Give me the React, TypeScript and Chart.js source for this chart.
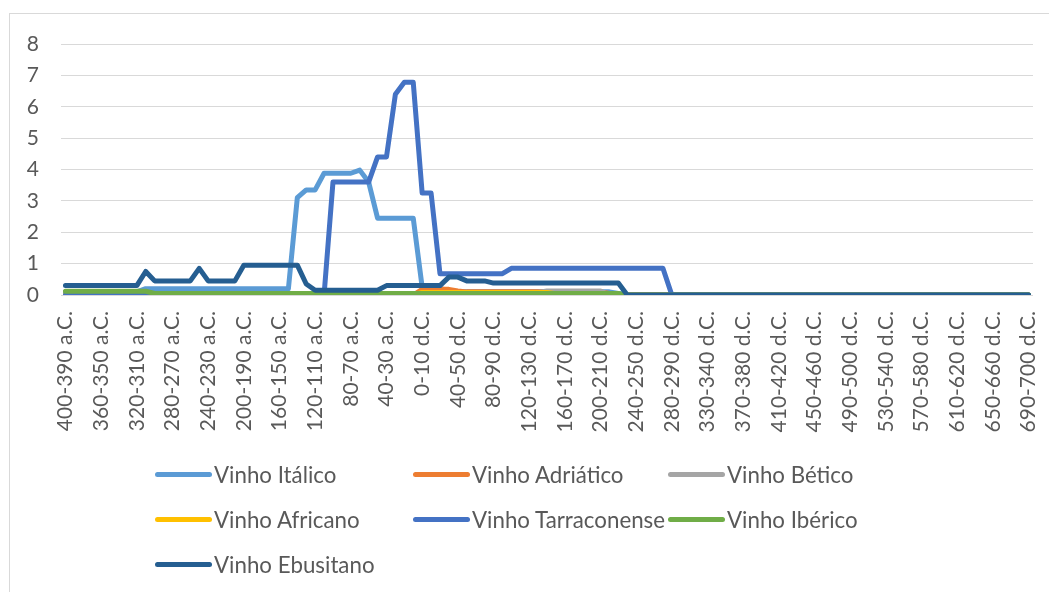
import React, { useEffect, useRef } from 'react';
import { Chart, registerables } from 'chart.js';

Chart.register(...registerables);

const categories = [
  '400-390 a.C.', '390-380 a.C.', '380-370 a.C.', '370-360 a.C.', '360-350 a.C.', '350-340 a.C.', '340-330 a.C.', '330-320 a.C.',
  '320-310 a.C.', '310-300 a.C.', '300-290 a.C.', '290-280 a.C.', '280-270 a.C.', '270-260 a.C.', '260-250 a.C.', '250-240 a.C.',
  '240-230 a.C.', '230-220 a.C.', '220-210 a.C.', '210-200 a.C.', '200-190 a.C.', '190-180 a.C.', '180-170 a.C.', '170-160 a.C.',
  '160-150 a.C.', '150-140 a.C.', '140-130 a.C.', '130-120 a.C.', '120-110 a.C.', '110-100 a.C.', '100-90 a.C.', '90-80 a.C.',
  '80-70 a.C.', '70-60 a.C.', '60-50 a.C.', '50-40 a.C.', '40-30 a.C.', '30-20 a.C.', '20-10 a.C.', '10-0 a.C.',
  '0-10 d.C.', '10-20 d.C.', '20-30 d.C.', '30-40 d.C.', '40-50 d.C.', '50-60 d.C.', '60-70 d.C.', '70-80 d.C.',
  '80-90 d.C.', '90-100 d.C.', '100-110 d.C.', '110-120 d.C.', '120-130 d.C.', '130-140 d.C.', '140-150 d.C.', '150-160 d.C.',
  '160-170 d.C.', '170-180 d.C.', '180-190 d.C.', '190-200 d.C.', '200-210 d.C.', '210-220 d.C.', '220-230 d.C.', '230-240 d.C.',
  '240-250 d.C.', '250-260 d.C.', '260-270 d.C.', '270-280 d.C.', '280-290 d.C.', '290-300 d.C.', '300-310 d.C.', '310-320 d.C.',
  '330-340 d.C.', '340-350 d.C.', '350-360 d.C.', '360-370 d.C.', '370-380 d.C.', '380-390 d.C.', '390-400 d.C.', '400-410 d.C.',
  '410-420 d.C.', '420-430 d.C.', '430-440 d.C.', '440-450 d.C.', '450-460 d.C.', '460-470 d.C.', '470-480 d.C.', '480-490 d.C.',
  '490-500 d.C.', '500-510 d.C.', '510-520 d.C.', '520-530 d.C.', '530-540 d.C.', '540-550 d.C.', '550-560 d.C.', '560-570 d.C.',
  '570-580 d.C.', '580-590 d.C.', '590-600 d.C.', '600-610 d.C.', '610-620 d.C.', '620-630 d.C.', '630-640 d.C.', '640-650 d.C.',
  '650-660 d.C.', '660-670 d.C.', '670-680 d.C.', '680-690 d.C.', '690-700 d.C.',
];

// every 4th category carries a visible tick label
const labelStep = 4;

const vinhoItalico = [
  0.1, 0.1, 0.1, 0.1, 0.1, 0.1, 0.1, 0.1, 0.1,
  0.2, 0.2, 0.2, 0.2, 0.2, 0.2, 0.2, 0.2, 0.2, 0.2, 0.2, 0.2, 0.2, 0.2, 0.2, 0.2, 0.2,
  3.1, 3.35, 3.35, 3.88, 3.88, 3.88, 3.88, 3.98, 3.6,
  2.45, 2.45, 2.45, 2.45, 2.45,
  0.25, 0.2, 0.2, 0.15,
  0.1, 0.1, 0.1, 0.1, 0.1, 0.1, 0.1, 0.1, 0.1, 0.1, 0.1, 0.1, 0.1, 0.1, 0.1, 0.1, 0.1, 0.1,
  0.05,
  0, 0, 0, 0, 0, 0, 0, 0, 0, 0, 0, 0, 0, 0, 0, 0, 0, 0, 0, 0, 0, 0, 0,
  0, 0, 0, 0, 0, 0, 0, 0, 0, 0, 0, 0, 0, 0, 0, 0, 0, 0, 0, 0, 0, 0, 0,
];

const vinhoAdriatico = [
  0, 0, 0, 0, 0, 0, 0, 0, 0, 0, 0, 0, 0, 0, 0, 0, 0, 0, 0, 0,
  0, 0, 0, 0, 0, 0, 0, 0, 0, 0, 0, 0, 0, 0, 0, 0, 0, 0, 0, 0,
  0.18, 0.18, 0.18, 0.18, 0.13,
  0.1, 0.1, 0.1, 0.1, 0.1, 0.1, 0.1, 0.1, 0.1, 0.1, 0.1, 0.1, 0.1, 0.1, 0.1, 0.1,
  0.05,
  0, 0, 0, 0, 0, 0, 0, 0, 0, 0, 0, 0, 0, 0, 0, 0, 0, 0, 0, 0, 0, 0, 0, 0,
  0, 0, 0, 0, 0, 0, 0, 0, 0, 0, 0, 0, 0, 0, 0, 0, 0, 0, 0, 0, 0, 0, 0,
];

const vinhoBetico = [
  0, 0, 0, 0, 0, 0, 0, 0, 0, 0, 0, 0, 0, 0, 0, 0, 0, 0, 0, 0, 0, 0, 0,
  0, 0, 0, 0, 0, 0, 0, 0, 0, 0, 0, 0, 0, 0, 0, 0, 0, 0, 0, 0, 0, 0,
  0.08, 0.08, 0.08, 0.08, 0.08, 0.08, 0.08, 0.08, 0.08,
  0.13, 0.13, 0.13, 0.13, 0.13, 0.13, 0.13,
  0,
  0, 0, 0, 0, 0, 0, 0, 0, 0, 0, 0, 0, 0, 0, 0, 0, 0, 0, 0, 0, 0, 0, 0, 0,
  0, 0, 0, 0, 0, 0, 0, 0, 0, 0, 0, 0, 0, 0, 0, 0, 0, 0, 0, 0, 0, 0, 0,
];

const vinhoAfricano = [
  0, 0, 0, 0, 0, 0, 0, 0, 0, 0, 0, 0, 0, 0, 0, 0, 0, 0, 0, 0,
  0, 0, 0, 0, 0, 0, 0, 0, 0, 0, 0, 0, 0, 0, 0, 0, 0, 0, 0, 0,
  0.08, 0.08, 0.08, 0.08, 0.08, 0.08, 0.08, 0.08, 0.08, 0.08, 0.08, 0.08, 0.08, 0.08, 0.08,
  0.04, 0.04, 0.04, 0.04, 0.04, 0.04, 0.04,
  0, 0, 0, 0, 0, 0, 0, 0, 0, 0, 0, 0, 0, 0, 0, 0, 0, 0, 0, 0, 0, 0, 0, 0,
  0, 0, 0, 0, 0, 0, 0, 0, 0, 0, 0, 0, 0, 0, 0, 0, 0, 0, 0, 0, 0, 0, 0,
];

const vinhoTarraconense = [
  0, 0, 0, 0, 0, 0, 0, 0, 0, 0, 0, 0, 0, 0, 0,
  0, 0, 0, 0, 0, 0, 0, 0, 0, 0, 0, 0, 0, 0, 0,
  3.6, 3.6, 3.6, 3.6, 3.6,
  4.4, 4.4,
  6.4, 6.78, 6.78,
  3.25, 3.25,
  0.68, 0.68, 0.68, 0.68, 0.68, 0.68, 0.68, 0.68,
  0.85, 0.85, 0.85, 0.85, 0.85, 0.85, 0.85, 0.85, 0.85,
  0.85, 0.85, 0.85, 0.85, 0.85, 0.85, 0.85, 0.85, 0.85,
  0, 0, 0, 0, 0, 0, 0, 0, 0, 0, 0, 0, 0, 0, 0, 0, 0, 0, 0, 0, 0,
  0, 0, 0, 0, 0, 0, 0, 0, 0, 0, 0, 0, 0, 0, 0, 0, 0, 0, 0, 0,
];

const vinhoIberico = [
  0.12, 0.12, 0.12, 0.12, 0.12, 0.12, 0.12, 0.12, 0.12, 0.12,
  0.05, 0.05, 0.05, 0.05, 0.05, 0.05, 0.05, 0.05, 0.05, 0.05, 0.05, 0.05, 0.05, 0.05, 0.05, 0.05, 0.05, 0.05,
  0.05, 0.05, 0.05, 0.05, 0.05, 0.05, 0.05, 0.05, 0.05, 0.05, 0.05, 0.05, 0.05, 0.05, 0.05, 0.05, 0.05, 0.05,
  0.05, 0.05, 0.05, 0.05, 0.05, 0.05, 0.05, 0.05, 0.05, 0.05, 0.05, 0.05, 0.05, 0.05, 0.05, 0.05, 0.05,
  0, 0, 0, 0, 0, 0, 0, 0, 0, 0, 0, 0, 0, 0, 0, 0, 0, 0, 0, 0, 0, 0, 0,
  0, 0, 0, 0, 0, 0, 0, 0, 0, 0, 0, 0, 0, 0, 0, 0, 0, 0, 0, 0, 0, 0, 0,
];

const vinhoEbusitano = [
  0.3, 0.3, 0.3, 0.3, 0.3, 0.3, 0.3, 0.3, 0.3,
  0.75,
  0.45, 0.45, 0.45, 0.45, 0.45,
  0.85,
  0.45, 0.45, 0.45, 0.45,
  0.95, 0.95, 0.95, 0.95, 0.95, 0.95, 0.95,
  0.35,
  0.15, 0.15, 0.15, 0.15, 0.15, 0.15, 0.15, 0.15,
  0.3, 0.3, 0.3, 0.3, 0.3, 0.3, 0.3,
  0.57, 0.57,
  0.45, 0.45, 0.45,
  0.38, 0.38, 0.38, 0.38, 0.38, 0.38, 0.38, 0.38, 0.38, 0.38, 0.38, 0.38, 0.38, 0.38, 0.38,
  0, 0, 0, 0, 0, 0, 0, 0, 0, 0, 0, 0, 0, 0, 0, 0, 0, 0, 0, 0, 0, 0, 0,
  0, 0, 0, 0, 0, 0, 0, 0, 0, 0, 0, 0, 0, 0, 0, 0, 0, 0, 0, 0, 0, 0, 0,
];

const seriesNames = [
  'Vinho Itálico',
  'Vinho Adriático',
  'Vinho Bético',
  'Vinho Africano',
  'Vinho Tarraconense',
  'Vinho Ibérico',
  'Vinho Ebusitano',
];
const seriesValues = [
  vinhoItalico,
  vinhoAdriatico,
  vinhoBetico,
  vinhoAfricano,
  vinhoTarraconense,
  vinhoIberico,
  vinhoEbusitano,
];
const seriesColors = ['#5B9BD5', '#ED7D31', '#A5A5A5', '#FFC000', '#4472C4', '#70AD47', '#255E91'];

const yTicks = [0, 1, 2, 3, 4, 5, 6, 7, 8];

const FONT = 'Lato, "Noto Sans", sans-serif';
const TEXT = '#595959';

// legend grid: 3 columns
const legendCols = [155, 413, 668];
const legendRows = [474, 519, 564];

export default function App() {
  const ref = useRef<HTMLCanvasElement>(null);

  useEffect(() => {
    if (!ref.current) return;
    const chart = new Chart(ref.current, {
      type: 'line',
      data: {
        labels: categories,
        datasets: seriesValues.map((vals, i) => ({
          label: seriesNames[i],
          data: vals,
          borderColor: seriesColors[i],
          backgroundColor: seriesColors[i],
          borderWidth: 5,
          pointRadius: 0,
          pointHoverRadius: 0,
          tension: 0,
          fill: false,
          borderJoinStyle: 'round' as const,
          borderCapStyle: 'round' as const,
          order: seriesValues.length - i,
        })),
      },
      options: {
        responsive: false,
        animation: false,
        layout: { padding: { left: 0, right: 16, top: 44, bottom: 144 } },
        plugins: {
          legend: { display: false },
          tooltip: { enabled: false },
        },
        scales: {
          x: {
            type: 'category',
            offset: true,
            grid: { display: false, drawTicks: false },
            border: { display: false },
            ticks: {
              autoSkip: false,
              maxRotation: 90,
              minRotation: 90,
              padding: 16,
              color: TEXT,
              font: { family: FONT, size: 21 },
              callback: (_v: any, i: number) => (i % labelStep === 0 ? categories[i] : null),
            },
            afterFit: (s: any) => {
              s.height = 153;
              s.paddingLeft = 0;
              s.paddingRight = 0;
            },
          },
          y: {
            min: yTicks[0],
            max: yTicks[yTicks.length - 1],
            ticks: {
              stepSize: 1,
              padding: 22,
              color: TEXT,
              font: { family: FONT, size: 21 },
            },
            grid: { color: '#D9D9D9', lineWidth: 1, drawTicks: false },
            border: { display: false },
            afterFit: (s: any) => {
              s.width = 61;
            },
          },
        },
      },
    });
    return () => chart.destroy();
  }, []);

  return (
    <div style={{ position: 'fixed', left: 0, top: 0, width: 1049, height: 592, overflow: 'hidden', background: '#fff' }}>
      <div
        style={{
          position: 'absolute',
          left: 9,
          top: 13,
          width: 1200,
          height: 800,
          border: '1px solid #D9D9D9',
          boxSizing: 'border-box',
        }}
      />
      <canvas ref={ref} width={1049} height={592} style={{ position: 'absolute', left: 0, top: 0 }} />
      {seriesNames.map((name, i) => {
        const col = i % 3;
        const row = Math.floor(i / 3);
        return (
          <div
            key={name}
            style={{
              position: 'absolute',
              left: legendCols[col],
              top: legendRows[row] - 15,
              height: 30,
              display: 'flex',
              alignItems: 'center',
              whiteSpace: 'nowrap',
              fontFamily: FONT,
              fontSize: 22.3,
              color: TEXT,
            }}
          >
            <span
              style={{
                display: 'inline-block',
                width: 57,
                height: 5,
                borderRadius: 3,
                background: seriesColors[i],
                marginRight: 2,
              }}
            />
            <span>{name}</span>
          </div>
        );
      })}
    </div>
  );
}
